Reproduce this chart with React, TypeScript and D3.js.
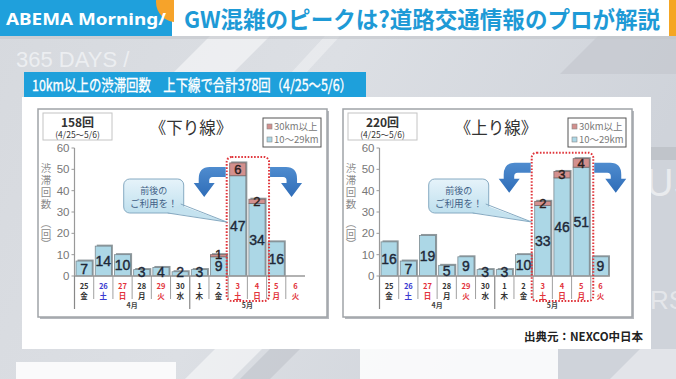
import React from 'react';
import * as d3 from 'd3';

const days = ['25', '26', '27', '28', '29', '30', '1', '2', '3', '4', '5', '6'];
const weekdays = ['金', '土', '日', '月', '火', '水', '木', '金', '土', '日', '月', '火'];
const dayKinds = ['k', 'b', 'r', 'k', 'r', 'k', 'k', 'k', 'r', 'r', 'r', 'r'];
const months = ['4月', '5月'];
const monthStarts = [0, 6];
const downShort = [7, 14, 10, 3, 4, 2, 3, 9, 47, 34, 16, 0];
const downLong = [0, 0, 0, 0, 0, 0, 0, 1, 6, 2, 0, 0];
const upShort = [16, 7, 19, 5, 9, 3, 3, 10, 33, 46, 51, 9];
const upLong = [0, 0, 0, 0, 0, 0, 0, 0, 2, 3, 4, 0];
const downHighlight = [8, 9];
const upHighlight = [8, 9, 10];
const yTicks = [0, 10, 20, 30, 40, 50, 60];
const legendLabels = ['30km以上', '10～29km'];
const yLabelMain = '渋滞回数';
const yLabelUnit = '（回）';

const JP = "'Noto Sans CJK JP', 'Noto Sans', sans-serif";
const NUM = "'Liberation Sans', Arial, sans-serif";
const BLUE_BAR = '#acd7e6';
const RED_BAR = '#d3908e';
const kindColor: Record<string, string> = { k: '#333', b: '#3b3bd0', r: '#e2333b' };

type ChartProps = {
  left: number;
  top: number;
  title: string;
  total: string;
  shortVals: number[];
  longVals: number[];
  highlight: number[];
};

function Arrow({ tx, ty, flip }: { tx: number; ty: number; flip: boolean }) {
  const d = 'M30,0 L14,0 Q3,0 3,12 L3,16 L-2,16 L8.5,30 L19,16 L13.5,16 L13.5,13.5 Q13.5,10 17,10 L30,10 Z';
  const t = flip ? `translate(${tx + 30},${ty}) scale(-1,1)` : `translate(${tx},${ty})`;
  return <path d={d} transform={t} fill="url(#arrowGrad)" />;
}

function Chart({ left, top, title, total, shortVals, longVals, highlight }: ChartProps) {
  const W = 289;
  const H = 208;
  const ax0 = left + 36.5;
  const ax1 = ax0 + 230.5;
  const base = top + 167;
  const x = d3
    .scaleBand<number>()
    .domain(d3.range(days.length))
    .range([ax0, ax1])
    .paddingInner(0.16)
    .paddingOuter(0.08);
  const y = d3.scaleLinear().domain([0, 60]).range([base, top + 39]);
  const bw = x.bandwidth();
  const step = x.step();
  const h0 = highlight[0];
  const h1 = highlight[highlight.length - 1];
  const maxTot = d3.max(highlight, (i) => shortVals[i] + longVals[i]) as number;
  const rL = (x(h0) as number) - 3;
  const rR = (x(h1) as number) + bw + 4;
  const rT = y(maxTot) - 6;
  const rB = base + 25;
  const bx = rL - 103;
  const by = top + 70;

  return (
    <g>
      <rect x={left + 2} y={top + 2} width={W} height={H} fill="#b5b8bd" />
      <rect x={left} y={top} width={W} height={H} fill="#fff" stroke="#a0a4a8" strokeWidth={1.5} />
      {/* total box */}
      <rect x={left + 5} y={top + 4} width={69} height={27} fill="#fff" stroke="#c4c4c4" strokeWidth={1} />
      <text x={left + 39.5} y={top + 17.5} textAnchor="middle" fontFamily={JP} fontSize={12} fontWeight="bold" fill="#333">
        {total}
      </text>
      <text x={left + 39.5} y={top + 28.5} textAnchor="middle" fontFamily={JP} fontSize={8.5} fill="#333">
        (4/25～5/6)
      </text>
      {/* title */}
      <text x={left + 153} y={top + 25} textAnchor="middle" fontFamily={JP} fontSize={16.5} fill="#333">
        {title}
      </text>
      {/* legend */}
      <rect x={left + 225} y={top + 9} width={58} height={29} fill="#fff" stroke="#555" strokeWidth={1} />
      {legendLabels.map((lab, i) => (
        <g key={lab}>
          <rect x={left + 229} y={top + 15 + i * 13} width={5} height={5} fill={i === 0 ? RED_BAR : BLUE_BAR} stroke="#888" strokeWidth={0.6} />
          <text x={left + 236} y={top + 20.5 + i * 13} fontFamily={JP} fontSize={9.5} fill="#777">
            {lab}
          </text>
        </g>
      ))}
      {/* y label (vertical) */}
      <text x={left + 8} y={top + 54} fontFamily={JP} fontSize={10.5} fill="#8a8a8a" letterSpacing={1.5} style={{ writingMode: 'vertical-rl' }}>
        {yLabelMain}
      </text>
      <text x={left + 8} y={top + 109} fontFamily={JP} fontSize={10.5} fill="#8a8a8a" style={{ writingMode: 'vertical-rl' }}>
        {yLabelUnit}
      </text>
      {/* y axis */}
      <line x1={ax0} x2={ax0} y1={base} y2={y(60)} stroke="#999" strokeWidth={1.2} />
      {yTicks.map((t) => (
        <g key={t}>
          <line x1={ax0 - 3} x2={ax0} y1={y(t)} y2={y(t)} stroke="#999" strokeWidth={1} />
          <text x={ax0 - 5} y={y(t)} dy="0.36em" textAnchor="end" fontFamily={NUM} fontSize={11.5} fill="#777">
            {t}
          </text>
        </g>
      ))}
      {/* bars */}
      {shortVals.map((s, i) => {
        const l = longVals[i];
        if (s + l <= 0) return null;
        const xi = x(i) as number;
        return (
          <g key={i}>
            <rect x={xi + 1.5} y={y(s + l) - 1.5} width={bw} height={base - y(s + l) + 1.5} fill="#8f989c" />
            <rect x={xi} y={y(s)} width={bw} height={base - y(s)} fill={BLUE_BAR} stroke="#7d8a90" strokeWidth={0.8} />
            {l > 0 && (
              <rect x={xi} y={y(s + l)} width={bw} height={y(s) - y(s + l)} fill={RED_BAR} stroke="#7d6a6a" strokeWidth={0.8} />
            )}
          </g>
        );
      })}
      {/* x axis */}
      <line x1={ax0} x2={ax1} y1={base} y2={base} stroke="#999" strokeWidth={1.5} />
      {days.map((d, i) => {
        const xs = ax0 + i * step;
        const long = monthStarts.includes(i);
        return (
          <line key={'s' + i} x1={xs} x2={xs} y1={base} y2={base + (long ? 33 : 23)} stroke="#888" strokeWidth={long ? 1.2 : 0.8} />
        );
      })}
      {days.map((d, i) => {
        const cx = (x(i) as number) + bw / 2;
        const c = kindColor[dayKinds[i]];
        return (
          <g key={'d' + i}>
            <text x={cx} y={base + 12.5} textAnchor="middle" fontFamily={JP} fontSize={7.5} fontWeight="bold" fill={c}>
              {d}
            </text>
            <text x={cx} y={base + 22.5} textAnchor="middle" fontFamily={JP} fontSize={7.5} fontWeight="bold" fill={c}>
              {weekdays[i]}
            </text>
          </g>
        );
      })}
      {months.map((m, k) => {
        const s = monthStarts[k];
        const e = k + 1 < monthStarts.length ? monthStarts[k + 1] : days.length;
        const cx = ax0 + ((s + e) / 2) * step;
        return (
          <text key={m} x={cx} y={base + 32} textAnchor="middle" fontFamily={JP} fontSize={7} fontWeight="bold" fill="#444">
            {m}
          </text>
        );
      })}
      {/* value labels */}
      {shortVals.map((s, i) => {
        const l = longVals[i];
        const cx = (x(i) as number) + bw / 2;
        const cy = Math.min((base + y(s)) / 2, base - 4.5);
        const ry = Math.min((y(s) + y(s + l)) / 2, y(s) - 2.5);
        return (
          <g key={'v' + i}>
            {s > 0 && (
              <text x={cx} y={cy} dy="0.36em" textAnchor="middle" fontFamily={NUM} fontSize={14} fill="#1e2838" stroke="#1e2838" strokeWidth={0.4}>
                {s}
              </text>
            )}
            {l > 0 && (
              <text x={cx} y={ry} dy="0.36em" textAnchor="middle" fontFamily={NUM} fontSize={13} fill="#2a2020" stroke="#2a2020" strokeWidth={0.4}>
                {l}
              </text>
            )}
          </g>
        );
      })}
      {/* highlight */}
      <rect x={rL} y={rT} width={rR - rL} height={rB - rT} rx={5} fill="none" stroke="#e0363c" strokeWidth={2} strokeDasharray="1.6 1.6" />
      <Arrow tx={rL - 31} ty={rT + 10} flip={false} />
      <Arrow tx={rR + 1} ty={rT + 10} flip={true} />
      {/* callout */}
      <rect x={bx} y={by} width={60} height={34} rx={6} fill="url(#bubbleGrad)" stroke="#86aac2" strokeWidth={1} />
      <polygon points={`${bx + 44},${by + 33.5} ${bx + 56},${by + 26} ${rL},${top + 113}`} fill="#c4e2ef" />
      <polyline points={`${bx + 44},${by + 34} ${rL},${top + 113} ${bx + 57},${by + 25}`} fill="none" stroke="#86aac2" strokeWidth={1} />
      <text x={bx + 30} y={by + 15} textAnchor="middle" fontFamily={JP} fontSize={9} fill="#3f5f86">
        前後の
      </text>
      <text x={bx + 30} y={by + 28} textAnchor="middle" fontFamily={JP} fontSize={9.5} fill="#3f5f86">
        ご利用を！
      </text>
    </g>
  );
}

export default function App() {
  return (
    <svg width={676} height={379} style={{ position: 'absolute', left: 0, top: 0 }} xmlns="http://www.w3.org/2000/svg">
      <defs>
        <linearGradient id="bgGrad" x1="0" y1="0" x2="1" y2="0.3">
          <stop offset="0" stopColor="#d6d9de" />
          <stop offset="0.5" stopColor="#dcdfe4" />
          <stop offset="1" stopColor="#cfd3da" />
        </linearGradient>
        <linearGradient id="arrowGrad" x1="0" y1="0" x2="0" y2="1">
          <stop offset="0" stopColor="#4f8ccf" />
          <stop offset="1" stopColor="#2f6db8" />
        </linearGradient>
        <linearGradient id="bubbleGrad" x1="0" y1="0" x2="0" y2="1">
          <stop offset="0" stopColor="#e6f3fa" />
          <stop offset="1" stopColor="#bfe0ee" />
        </linearGradient>
        <clipPath id="bannerClip">
          <rect x={0} y={0} width={174} height={36} />
        </clipPath>
      </defs>
      {/* background */}
      <rect x={0} y={0} width={676} height={379} fill="url(#bgGrad)" />
      <polygon points="172,74 210,36 270,36 232,74" fill="#fff" opacity={0.5} />
      <polygon points="290,74 325,36 340,36 305,74" fill="#fff" opacity={0.35} />
      <polygon points="560,74 598,36 676,36 676,74" fill="#c4c8cf" opacity={0.7} />
      <polygon points="185,379 215,349 262,349 232,379" fill="#fff" opacity={0.5} />
      <polygon points="240,379 270,349 300,349 270,379" fill="#b9bec6" opacity={0.5} />
      <polygon points="610,379 640,349 676,349 676,379" fill="#fff" opacity={0.4} />
      <rect x={651} y={147} width={25} height={13} fill="#c0c4ca" />
      <text x={646} y={196} fontFamily="'Liberation Sans', sans-serif" fontSize={38} fill="#fff" opacity={0.55}>US</text>
      <text x={650} y={309} fontFamily="'Liberation Sans', sans-serif" fontSize={26} fill="#fff" opacity={0.45}>RS</text>
      <text x={16} y={67} fontFamily="'Liberation Sans', sans-serif" fontSize={22} fill="#eceef1">365 DAYS /</text>
      <rect x={16} y={362} width={160} height={20} fill="#fff" opacity={0.85} />
      <rect x={360} y={349} width={198} height={32} fill="#fff" opacity={0.85} />
      {/* banner */}
      <rect x={0} y={36} width={676} height={3} fill="#c3c6cb" opacity={0.6} />
      <rect x={172} y={0} width={497} height={36} fill="#fff" />
      <rect x={669} y={0} width={7} height={36} fill="#f5a623" />
      <rect x={0} y={0} width={172} height={36} fill="#1fa0dc" />
      <g clipPath="url(#bannerClip)">
        <circle cx={176} cy={2} r={20} fill="#f6a32a" />
      </g>
      <text x={6} y={25} fontFamily="'Noto Sans', sans-serif" fontSize={16} fontWeight="bold" fill="#fff" textLength={160} lengthAdjust="spacingAndGlyphs">
        ABEMA Morning/
      </text>
      <text x={184} y={28} fontFamily={JP} fontSize={23} fontWeight="bold" fill="#1e9ad6" textLength={476} lengthAdjust="spacingAndGlyphs">
        GW混雑のピークは?道路交通情報のプロが解説
      </text>
      {/* white panel */}
      <rect x={22} y={97} width={629} height={252} fill="#fff" />
      {/* subtitle bar */}
      <rect x={24} y={72} width={342} height={25} fill="#1ea0db" />
      <text x={32} y={90.5} fontFamily={JP} fontSize={15.5} fill="#fff" stroke="#fff" strokeWidth={0.35} textLength={320} lengthAdjust="spacingAndGlyphs">
        10km以上の渋滞回数　上下線で合計378回（4/25～5/6）
      </text>
      <Chart left={38} top={109} title="《下り線》" total="158回" shortVals={downShort} longVals={downLong} highlight={downHighlight} />
      <Chart left={343} top={109} title="《上り線》" total="220回" shortVals={upShort} longVals={upLong} highlight={upHighlight} />
      <text x={643} y={341} textAnchor="end" fontFamily={JP} fontSize={11.5} fontWeight="bold" fill="#222">
        出典元：NEXCO中日本
      </text>
    </svg>
  );
}
